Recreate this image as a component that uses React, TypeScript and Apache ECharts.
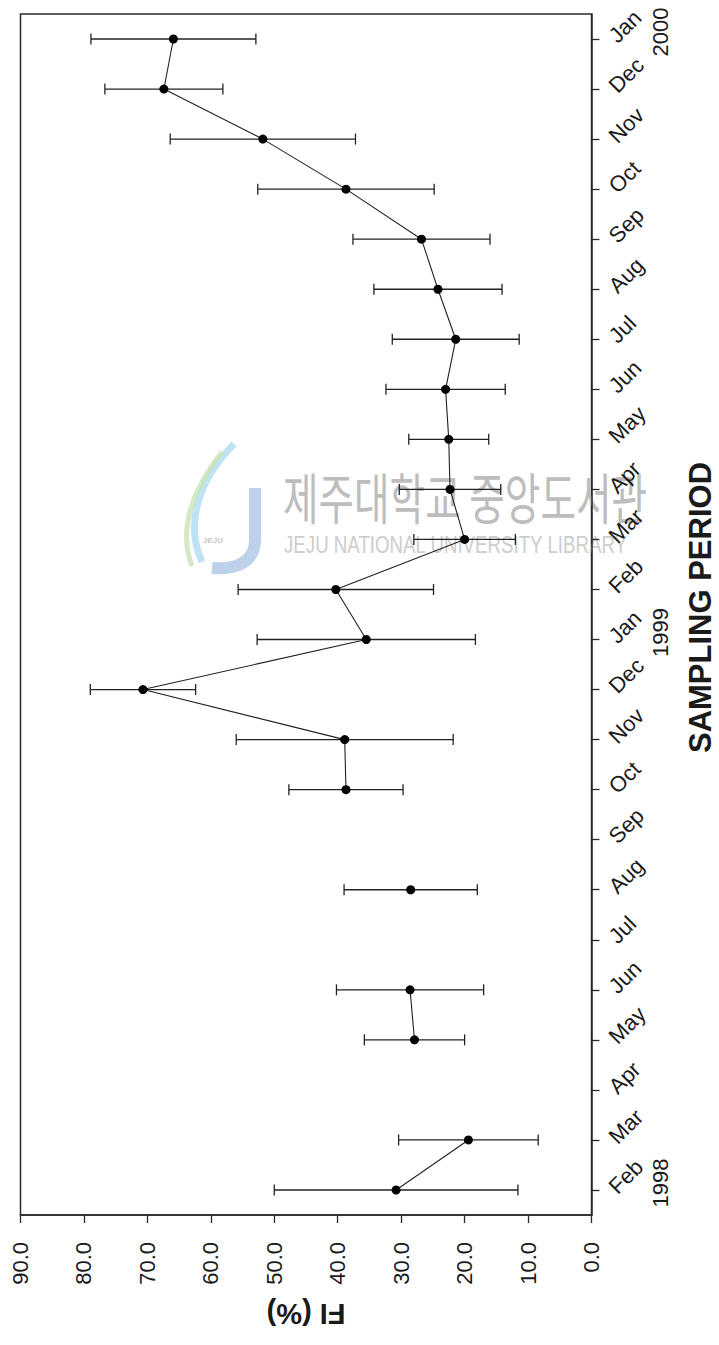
import { useEffect, useRef } from 'react';
import * as echarts from 'echarts';

// Sampling months, oldest first (drawn bottom to top)
const periods = [
  'Feb 1998', 'Mar 1998', 'Apr 1998', 'May 1998', 'Jun 1998', 'Jul 1998',
  'Aug 1998', 'Sep 1998', 'Oct 1998', 'Nov 1998', 'Dec 1998', 'Jan 1999',
  'Feb 1999', 'Mar 1999', 'Apr 1999', 'May 1999', 'Jun 1999', 'Jul 1999',
  'Aug 1999', 'Sep 1999', 'Oct 1999', 'Nov 1999', 'Dec 1999', 'Jan 2000',
];

// Mean FI (%) per month; null = no sample
const fiMean = [
  30.8, 19.4, null, 27.9, 28.6, null,
  28.5, null, 38.7, 38.9, 70.7, 35.5,
  40.3, 20.0, 22.3, 22.5, 23.0, 21.4,
  24.2, 26.8, 38.7, 51.8, 67.4, 65.9,
];

// Standard deviation per month
const fiSD = [
  19.2, 11.0, null, 7.9, 11.6, null,
  10.5, null, 9.0, 17.1, 8.3, 17.2,
  15.4, 8.0, 8.0, 6.3, 9.4, 10.0,
  10.1, 10.8, 13.9, 14.6, 9.3, 13.0,
];

const fiMin = 0;
const fiMax = 90;
const fiStep = 10;

const FONT = '"Liberation Sans", Arial, sans-serif';
const INK = '#1a1a1a';

export default function App() {
  const ref = useRef<HTMLDivElement>(null);

  useEffect(() => {
    if (!ref.current) return;
    const chart = echarts.init(ref.current, undefined, { renderer: 'svg' });

    const errData = periods
      .map((_, i) => (fiMean[i] == null ? null : [i, (fiMean[i] as number) - (fiSD[i] as number), (fiMean[i] as number) + (fiSD[i] as number)]))
      .filter((d) => d !== null);

    const lineData = periods.map((_, i) => [fiMean[i], i]);

    chart.setOption({
      animation: false,
      backgroundColor: '#ffffff',
      grid: {
        left: 20.5,
        right: 127.5,
        top: 14,
        bottom: 130,
        show: true,
        borderColor: '#2a2a2a',
        borderWidth: 1.5,
        outerBoundsMode: 'none',
      },
      xAxis: {
        type: 'value',
        min: fiMin,
        max: fiMax,
        interval: fiStep,
        inverse: true,
        position: 'bottom',
        name: 'FI (%)',
        nameLocation: 'middle',
        nameRotate: 180,
        nameGap: 84,
        nameMoveOverlap: false,
        nameTextStyle: { fontFamily: FONT, fontSize: 29, fontWeight: 'bold', color: INK },
        axisLine: { show: true, lineStyle: { color: '#2a2a2a', width: 1.5 } },
        axisTick: { show: true, inside: false, length: 8, lineStyle: { color: '#2a2a2a', width: 1.3 } },
        splitLine: { show: false },
        axisLabel: {
          rotate: 90,
          margin: 27,
          fontFamily: FONT,
          fontSize: 22,
          color: INK,
          formatter: (v: number) => v.toFixed(1),
        },
      },
      yAxis: [
        {
          type: 'category',
          data: periods,
          position: 'right',
          boundaryGap: true,
          name: 'SAMPLING PERIOD',
          nameLocation: 'middle',
          nameRotate: 90,
          nameGap: 93,
          nameMoveOverlap: false,
          nameTextStyle: { fontFamily: FONT, fontSize: 31, lineHeight: 31, fontWeight: 'bold', color: INK, padding: [0, 0, 0, 14] },
          axisLine: { show: true, lineStyle: { color: '#2a2a2a', width: 1.5 } },
          axisTick: { show: true, inside: false, length: 8, alignWithLabel: true, interval: 0, lineStyle: { color: '#2a2a2a', width: 1.3 } },
          splitLine: { show: false },
          axisLabel: {
            interval: 0,
            rotate: 45,
            margin: 21,
            fontFamily: FONT,
            fontSize: 22,
            color: INK,
            formatter: (v: string) => v.split(' ')[0],
          },
        },
        {
          type: 'category',
          data: periods,
          position: 'right',
          boundaryGap: true,
          axisLine: { show: false },
          axisTick: { show: false },
          splitLine: { show: false },
          axisLabel: {
            interval: 0,
            rotate: 90,
            margin: 58,
            fontFamily: FONT,
            fontSize: 22,
            color: INK,
            padding: [0, 0, 0, 14],
            formatter: (v: string, i: number) => (i === 0 || v.startsWith('Jan') ? v.split(' ')[1] : ''),
          },
        },
      ],
      graphic: [
        {
          type: 'group',
          z: -10,
          silent: true,
          children: [
            {
              type: 'bezierCurve',
              shape: { x1: 234, y1: 444, cpx1: 200, cpy1: 478, cpx2: 184, cpy2: 522, x2: 202, y2: 562 },
              style: { stroke: '#a9d9ee', lineWidth: 7, fill: null, opacity: 0.75 },
            },
            {
              type: 'bezierCurve',
              shape: { x1: 222, y1: 452, cpx1: 192, cpy1: 490, cpx2: 178, cpy2: 530, x2: 192, y2: 566 },
              style: { stroke: '#c6e2b0', lineWidth: 5, fill: null, opacity: 0.75 },
            },
            {
              type: 'polyline',
              shape: { points: [[255, 488], [255, 540]] },
              style: { stroke: '#b3c9e8', lineWidth: 12, fill: null, opacity: 0.85 },
            },
            {
              type: 'bezierCurve',
              shape: { x1: 255, y1: 540, cpx1: 255, cpy1: 562, cpx2: 236, cpy2: 570, x2: 212, y2: 568 },
              style: { stroke: '#b3c9e8', lineWidth: 12, fill: null, opacity: 0.85 },
            },
            {
              type: 'text',
              x: 203,
              y: 536,
              style: { text: 'JEJU', font: 'bold 8px "Liberation Sans", Arial, sans-serif', fill: '#c8c8c8' },
            },
            {
              type: 'text',
              x: 283,
              y: 468,
              scaleX: 0.92,
              scaleY: 1.3,
              style: {
                text: '제주대학교 중앙도서관',
                font: '42px "Noto Sans CJK KR", sans-serif',
                fill: '#bdbdbd',
              },
            },
            {
              type: 'text',
              x: 284,
              y: 533,
              scaleX: 0.85,
              scaleY: 1.05,
              style: {
                text: 'JEJU NATIONAL UNIVERSITY LIBRARY',
                font: '22px "Liberation Sans", Arial, sans-serif',
                fill: '#cdcdcd',
              },
            },
          ],
        },
      ],
      series: [
        {
          type: 'custom',
          yAxisIndex: 0,
          encode: { x: [1, 2], y: 0 },
          data: errData,
          z: 3,
          renderItem: (_params: any, api: any) => {
            const idx = api.value(0);
            const lo = api.coord([api.value(1), idx]);
            const hi = api.coord([api.value(2), idx]);
            const cap = 5.5;
            const style = { stroke: '#222222', lineWidth: 1.3 };
            return {
              type: 'group',
              children: [
                { type: 'line', shape: { x1: lo[0], y1: lo[1], x2: hi[0], y2: hi[1] }, style },
                { type: 'line', shape: { x1: lo[0], y1: lo[1] - cap, x2: lo[0], y2: lo[1] + cap }, style },
                { type: 'line', shape: { x1: hi[0], y1: hi[1] - cap, x2: hi[0], y2: hi[1] + cap }, style },
              ],
            };
          },
        },
        {
          type: 'line',
          yAxisIndex: 0,
          data: lineData,
          connectNulls: false,
          symbol: 'circle',
          symbolSize: 9,
          showSymbol: true,
          z: 4,
          itemStyle: { color: '#000000' },
          lineStyle: { color: '#222222', width: 1.1 },
        },
      ],
    });

    return () => chart.dispose();
  }, []);

  return (
    <div
      ref={ref}
      style={{ position: 'fixed', left: 0, top: 0, width: 719, height: 1345, background: '#fff' }}
    />
  );
}
